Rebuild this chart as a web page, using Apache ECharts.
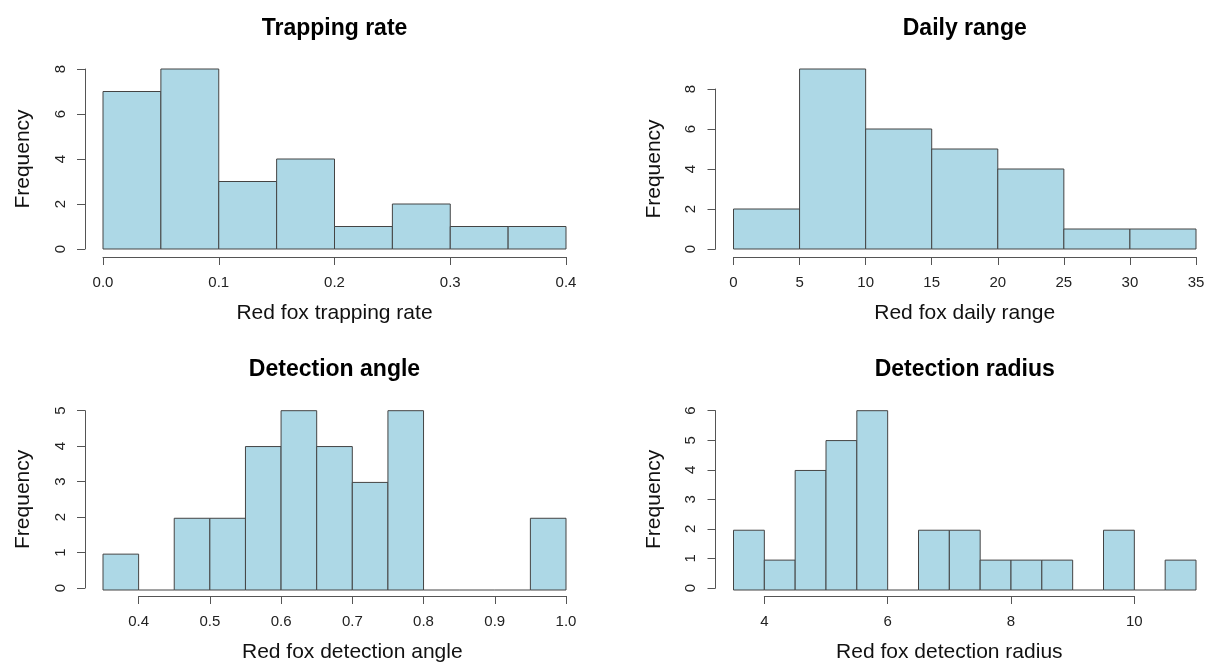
<!DOCTYPE html>
<html>
<head>
<meta charset="utf-8">
<script src="https://cdn.jsdelivr.net/npm/echarts@6/dist/echarts.min.js"></script>
<style>
  html, body { margin: 0; padding: 0; background: #fff; }
  #hist { width: 1208px; height: 664px; }
</style>
</head>
<body>
<div id="hist"></div>
<script>
// ---- data ----
const titles = ['Trapping rate', 'Daily range', 'Detection angle', 'Detection radius']
const xNames = ['Red fox trapping rate', 'Red fox daily range', 'Red fox detection angle', 'Red fox detection radius']

const trappingBreaks = [0, 0.05, 0.1, 0.15, 0.2, 0.25, 0.3, 0.35, 0.4]
const trappingCounts = [7, 8, 3, 4, 1, 2, 1, 1]

const rangeBreaks = [0, 5, 10, 15, 20, 25, 30, 35]
const rangeCounts = [2, 9, 6, 5, 4, 1, 1]

const angleBreaks = [0.35, 0.4, 0.45, 0.5, 0.55, 0.6, 0.65, 0.7, 0.75, 0.8, 0.85, 0.9, 0.95, 1.0]
const angleCounts = [1, 0, 2, 2, 4, 5, 4, 3, 5, 0, 0, 0, 2]

const radiusBreaks = [3.5, 4, 4.5, 5, 5.5, 6, 6.5, 7, 7.5, 8, 8.5, 9, 9.5, 10, 10.5, 11]
const radiusCounts = [2, 1, 4, 5, 6, 0, 2, 2, 1, 1, 1, 0, 2, 0, 1]

// tick ranges: [first, last, step]
const xTicks = [[0, 0.4, 0.1], [0, 35, 5], [0.4, 1.0, 0.1], [4, 10, 2]]
const yTicks = [[0, 8, 2], [0, 8, 2], [0, 5, 1], [0, 6, 1]]
const xDecimals = [1, 0, 1, 0]

const panels = [
  { breaks: trappingBreaks, counts: trappingCounts },
  { breaks: rangeBreaks, counts: rangeCounts },
  { breaks: angleBreaks, counts: angleCounts },
  { breaks: radiusBreaks, counts: radiusCounts }
]

// ---- layout (pixels) ----
const colX = [[103, 566], [733.5, 1196]]   // plot left/right per column
const rowY = [[69, 249], [410.7, 590]]     // plot top(max count)/baseline per row
const axisX = [85, 715.5]                  // y axis line position
const titleY = [29, 370]
const FONT = '"Liberation Sans", Arial, Helvetica, sans-serif'
const LINE = '#555'

let grids = [], xAxes = [], yAxes = [], series = [], graphics = []

panels.forEach(function(p, k){
  let col = k % 2, row = Math.floor(k / 2)
  let lo = p.breaks[0], hi = p.breaks[p.breaks.length - 1]
  let yMax = Math.max.apply(null, p.counts)
  let pxLo = colX[col][0], pxHi = colX[col][1]
  let pyTop = rowY[row][0], py0 = rowY[row][1]
  let unit = (py0 - pyTop) / yMax
  let px = function(v){ return pxLo + (v - lo) / (hi - lo) * (pxHi - pxLo) }

  // data grid
  let gd = grids.length
  grids.push({ left: pxLo, top: pyTop, width: pxHi - pxLo, height: py0 - pyTop })
  xAxes.push({ gridIndex: gd, type: 'value', min: lo, max: hi, show: false })
  yAxes.push({ gridIndex: gd, type: 'value', min: 0, max: yMax, show: false })

  // axis grid (R style axes only span the tick range)
  let xt = xTicks[k], yt = yTicks[k]
  let ga = grids.length
  let gl = px(xt[0])
  grids.push({
    left: gl, width: px(xt[1]) - gl,
    top: py0 - yt[1] * unit, height: yt[1] * unit
  })
  xAxes.push({
    gridIndex: ga, type: 'value', min: xt[0], max: xt[1], interval: xt[2],
    offset: 8,
    axisLine: { show: true, onZero: false, lineStyle: { color: LINE, width: 1 } },
    axisTick: { show: true, length: 8, lineStyle: { color: LINE, width: 1 } },
    splitLine: { show: false },
    axisLabel: {
      show: true, margin: 18, fontSize: 15, color: '#222', fontFamily: FONT,
      showMinLabel: true, showMaxLabel: true,
      formatter: function(v){ return Number(v).toFixed(xDecimals[k]) }
    },
    name: xNames[k], nameLocation: 'middle', nameGap: 46,
    nameTextStyle: { fontSize: 21, color: '#111', fontFamily: FONT }
  })
  yAxes.push({
    gridIndex: ga, type: 'value', min: yt[0], max: yt[1], interval: yt[2],
    offset: gl - axisX[col],
    axisLine: { show: true, onZero: false, lineStyle: { color: LINE, width: 1 } },
    axisTick: { show: true, length: 8, lineStyle: { color: LINE, width: 1 } },
    splitLine: { show: false },
    axisLabel: {
      show: true, margin: 17, fontSize: 15, color: '#222', fontFamily: FONT, rotate: 90,
      showMinLabel: true, showMaxLabel: true
    },
    name: 'Frequency', nameLocation: 'middle', nameGap: 51,
    nameTextStyle: { fontSize: 21, color: '#111', fontFamily: FONT }
  })

  // bars
  let bins = p.counts.map(function(c, i){ return [p.breaks[i], p.breaks[i + 1], c] })
  series.push({
    type: 'custom',
    xAxisIndex: gd, yAxisIndex: gd,
    encode: { x: [0, 1], y: 2 },
    data: bins,
    silent: true,
    renderItem: function(params, api){
      let a = api.coord([api.value(0), api.value(2)])
      let b = api.coord([api.value(1), 0])
      if (api.value(2) === 0) {
        return {
          type: 'line',
          shape: { x1: a[0], y1: b[1], x2: b[0], y2: b[1] },
          style: { stroke: '#444', lineWidth: 1 }
        }
      }
      return {
        type: 'rect',
        shape: { x: a[0], y: a[1], width: b[0] - a[0], height: b[1] - a[1] },
        style: { fill: '#add8e6', stroke: '#444', lineWidth: 1 }
      }
    }
  })
  // keep the axis grid alive
  series.push({ type: 'line', xAxisIndex: ga, yAxisIndex: ga, data: [], silent: true })

  graphics.push({
    type: 'text', x: (pxLo + pxHi) / 2, y: titleY[row], silent: true,
    style: {
      text: titles[k], fill: '#000',
      font: 'bold 23px ' + FONT,
      textAlign: 'center', textVerticalAlign: 'middle'
    }
  })
})

let chart = echarts.init(document.getElementById('hist'))
chart.setOption({
  backgroundColor: '#fff',
  animation: false,
  grid: grids,
  xAxis: xAxes,
  yAxis: yAxes,
  series: series,
  graphic: graphics
})
</script>
</body>
</html>
